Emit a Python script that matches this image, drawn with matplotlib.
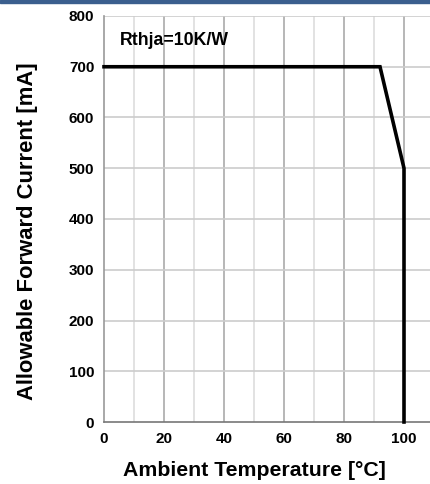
import matplotlib
matplotlib.use("Agg")
import matplotlib.pyplot as plt
from matplotlib.patches import Rectangle

# derating curve
temperature = [0, 92, 100, 100]
current = [700, 700, 500, 0]

x_ticks = [0, 20, 40, 60, 80, 100]
y_ticks = [0, 100, 200, 300, 400, 500, 600, 700, 800]
note = "Rthja=10K/W"

plt.rcParams['font.family'] = ['Liberation Sans', 'DejaVu Sans']
plt.rcParams['font.weight'] = 'bold'

W, H = 430, 484
fig = plt.figure(figsize=(W / 100, H / 100), dpi=100)
left, right, top, bottom = 104, 430, 16, 422
ax = fig.add_axes([left / W, (H - bottom) / H, (right - left) / W, (bottom - top) / H])

ax.set_xlim(0, (right - left) / 3.0)
ax.set_ylim(0, 800)

# grid: major every 20, minor every 10 on x; every 100 on y
for xv in range(10, 110, 10):
    c = '#aaaaaa' if xv % 20 == 0 else '#dddddd'
    ax.axvline(xv, color=c, lw=1.2, zorder=1)
for yv in y_ticks[1:]:
    ax.axhline(yv, color='#cccccc', lw=1.2, zorder=1)

ax.plot(temperature, current, color='black', lw=2.6, solid_capstyle='projecting',
        solid_joinstyle='miter', zorder=3, clip_on=False)

for s in ['top', 'right']:
    ax.spines[s].set_visible(False)
ax.spines['left'].set_color('#999999')
ax.spines['bottom'].set_color('#777777')
ax.spines['left'].set_linewidth(1.2)
ax.spines['bottom'].set_linewidth(1.2)

ax.set_xticks(x_ticks)
ax.set_yticks(y_ticks)
ax.tick_params(axis='both', length=0, labelsize=11, colors='black')
ax.tick_params(axis='y', pad=7)
ax.tick_params(axis='x', pad=7)

ax.text(5.3, 752, note, fontsize=12.8, fontweight='bold', va='center', ha='left')

fig.text(254 / W, 1 - 471 / H, "Ambient Temperature [°C]", fontsize=15.3,
         fontweight='bold', ha='center', va='center')
fig.text(28 / W, 1 - 231 / H, "Allowable Forward Current [mA]", fontsize=15.8,
         fontweight='bold', ha='center', va='center', rotation=90)

fig.patches.append(Rectangle((0, 1 - 3 / H), 1, 3 / H, transform=fig.transFigure,
                             color='#3b5f8e', zorder=5))

fig.savefig('out.png', dpi=100)
